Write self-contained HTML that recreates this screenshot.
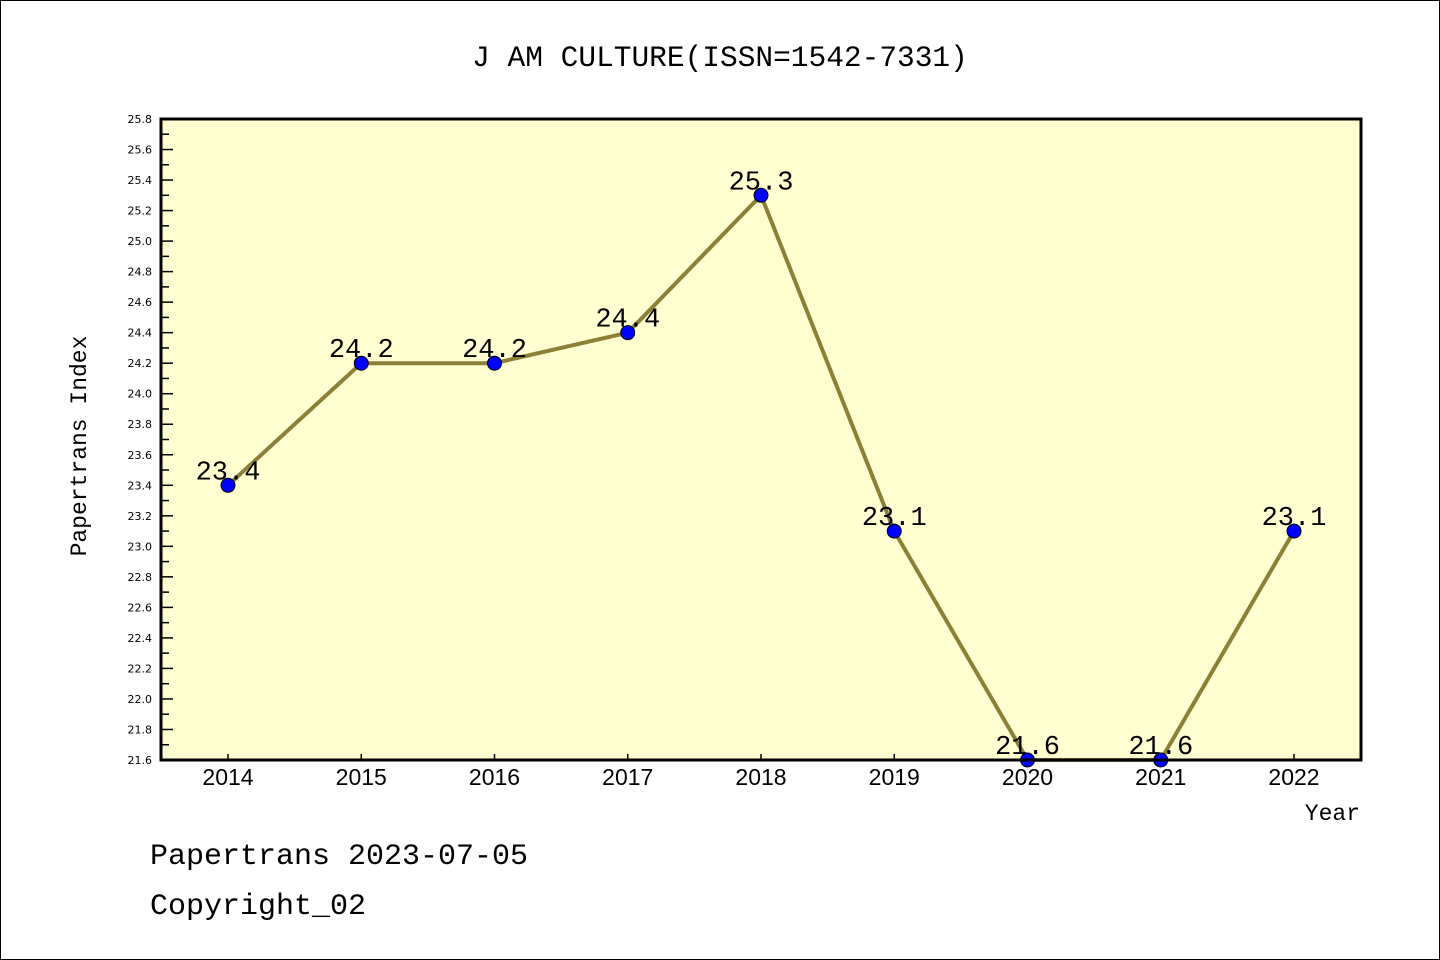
<!DOCTYPE html>
<html><head><meta charset="utf-8"><style>body{margin:0;background:#fff}svg{display:block}</style></head>
<body>
<svg id="c" width="1440" height="960" xmlns="http://www.w3.org/2000/svg" font-family="Liberation Mono, DejaVu Sans Mono, monospace">
<rect x="0.5" y="0.5" width="1439" height="959" fill="#fff" stroke="#000"/>
<text x="720" y="66" text-anchor="middle" font-size="29.5">J AM CULTURE(ISSN=1542-7331)</text>
<rect x="161" y="119" width="1200" height="641" fill="#ffffd2"/>
<g id="ticks"></g>
<g id="marks"></g>
<rect x="161" y="119" width="1200" height="641" fill="none" stroke="#000" stroke-width="3"/>
<text x="86" y="446" text-anchor="middle" font-size="23" transform="rotate(-90 86 446)">Papertrans Index</text>
<text x="1360" y="820" text-anchor="end" font-size="23">Year</text>
<text x="150" y="864" font-size="30">Papertrans 2023-07-05</text>
<text x="150" y="914" font-size="30">Copyright_02</text>
</svg>
<script>
const years = ["2014","2015","2016","2017","2018","2019","2020","2021","2022"];
const values = [23.4,24.2,24.2,24.4,25.3,23.1,21.6,21.6,23.1];
const valueLabels = ["23.4","24.2","24.2","24.4","25.3","23.1","21.6","21.6","23.1"];
const yTicks = ["21.6","21.8","22.0","22.2","22.4","22.6","22.8","23.0","23.2","23.4","23.6","23.8","24.0","24.2","24.4","24.6","24.8","25.0","25.2","25.4","25.6","25.8"];
const NS="http://www.w3.org/2000/svg";
const yMin=21.6,yMax=25.8,plotTop=119,plotBot=760;
const X=i=>228+i*133.25;
const Y=v=>plotBot-(v-yMin)/(yMax-yMin)*(plotBot-plotTop);
function mk(t,a,p){const e=document.createElementNS(NS,t);for(const k in a)e.setAttribute(k,a[k]);p.appendChild(e);return e;}
const tg=document.getElementById('ticks'),mg=document.getElementById('marks');
yTicks.forEach((t,i)=>{const v=parseFloat(t),y=Y(v);
 const l=mk('line',{x1:161,x2:173,y1:y,y2:y,stroke:'#000','stroke-width':1.5},tg);
 
 
 const tx=mk('text',{x:152,y:y+4,'text-anchor':'end','font-size':11,'font-family':'DejaVu Sans, sans-serif'},tg);tx.textContent=t;
 
 
 if(i<yTicks.length-1){const ym=Y(v+0.1);const m=mk('line',{x1:161,x2:169,y1:ym,y2:ym,stroke:'#000','stroke-width':1.5},tg);
 
 }
});
years.forEach((yr,i)=>{const x=X(i);
 const l=mk('line',{x1:x,x2:x,y1:plotBot,y2:plotBot-6,stroke:'#000','stroke-width':1.5},tg);
 
 
 const tx=mk('text',{x:x,y:785,'text-anchor':'middle','font-size':23,'font-family':'Liberation Sans, sans-serif'},tg);tx.textContent=yr;
 
 
});
const pl=mk('polyline',{points:values.map((v,i)=>X(i)+','+Y(v)).join(' '),fill:'none',stroke:'#8c7f36','stroke-width':4},mg);


values.forEach((v,i)=>{
 const c=mk('circle',{cx:X(i),cy:Y(v),r:7,fill:'#0000ff',stroke:'#000','stroke-width':1},mg);
 
 
 const t=mk('text',{x:X(i),y:Y(v)-6,'text-anchor':'middle','font-size':27},mg);t.textContent=valueLabels[i];
 
 
});
</script>
</body></html>
